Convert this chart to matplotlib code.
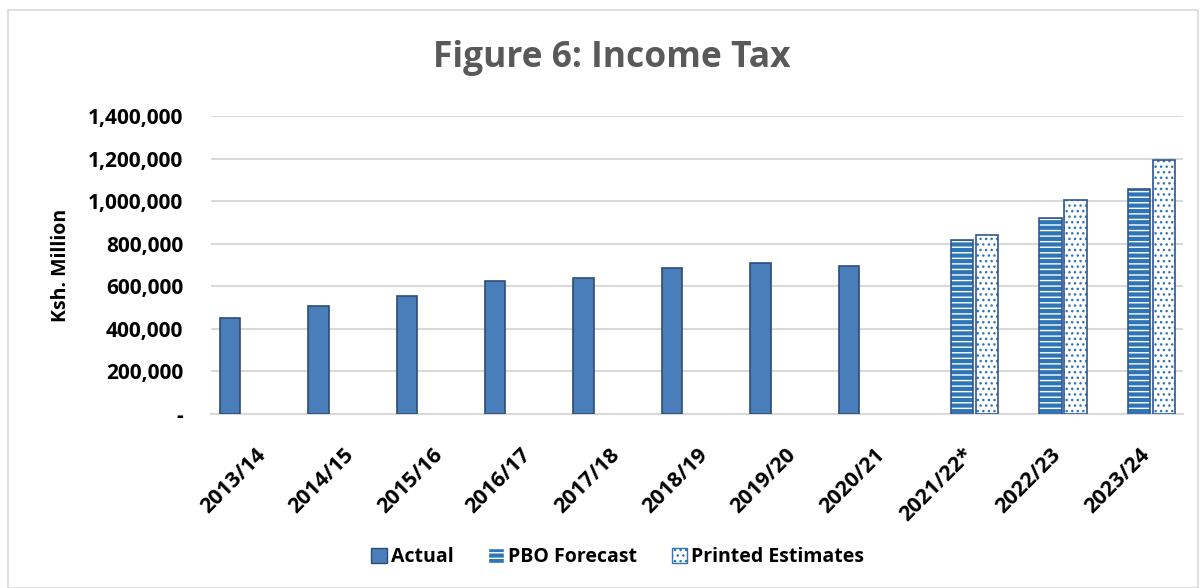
import matplotlib
matplotlib.use("Agg")
import matplotlib.pyplot as plt
import matplotlib.patches as mpatches
from matplotlib.ticker import FuncFormatter
import numpy as np

years = ['2013/14', '2014/15', '2015/16', '2016/17', '2017/18', '2018/19',
         '2019/20', '2020/21', '2021/22*', '2022/23', '2023/24']
actual = [451000, 507000, 554000, 625000, 639000, 686000, 709000, 695000, None, None, None]
pbo_forecast = [None, None, None, None, None, None, None, None, 817000, 921000, 1057000]
printed_estimates = [None, None, None, None, None, None, None, None, 841000, 1005000, 1193000]

plt.rcParams['font.family'] = ['Open Sans', 'DejaVu Sans']
plt.rcParams['hatch.linewidth'] = 1.0

fig = plt.figure(figsize=(12.04, 5.88), dpi=100)
ax = fig.add_axes([211 / 1204, 1 - 414 / 588, (1183 - 211) / 1204, (414 - 116) / 588])

x = np.arange(len(years))
off = 0.283
w = 0.25

def pick(vals):
    idx = [i for i, v in enumerate(vals) if v is not None]
    return np.array(idx), [vals[i] for i in idx]

xa, ya = pick(actual)
xp, yp = pick(pbo_forecast)
xe, ye = pick(printed_estimates)

# actual bars
ax.bar(xa - off, ya, width=0.23, color='#4A7EBB', edgecolor='#2C4D75', linewidth=1.2, zorder=3)

# forecast bars: blue with white stripes, then a border on top
ax.bar(xp, yp, width=w, color='#2E75B6', edgecolor='white', hatch='---', linewidth=0, zorder=3)
ax.bar(xp, yp, width=w, fill=False, edgecolor='#2F5597', linewidth=1.2, zorder=4)

# printed estimates: white with blue dots
ax.bar(xe + off, ye, width=w, color='white', edgecolor='#2E75B6', hatch='...', linewidth=0, zorder=3)
ax.bar(xe + off, ye, width=w, fill=False, edgecolor='#2F5597', linewidth=1.2, zorder=4)

ax.set_xlim(-0.5, len(years) - 0.5)
ax.set_ylim(0, 1400000)
ax.set_yticks(np.arange(0, 1400001, 200000))
ax.yaxis.set_major_formatter(FuncFormatter(lambda v, p: '-' if v == 0 else f'{int(v):,}'))
ax.grid(axis='y', color='#D9D9D9', linewidth=1.5, zorder=0)
ax.set_axisbelow(True)
for s in ['top', 'right', 'left']:
    ax.spines[s].set_visible(False)
ax.spines['bottom'].set_color('#D9D9D9')
ax.spines['bottom'].set_linewidth(1.5)
ax.tick_params(axis='y', length=0, labelsize=15, pad=20)
ax.tick_params(axis='x', length=0, labelsize=15.5, pad=22)
for lbl in ax.get_yticklabels():
    lbl.set_fontweight('bold')
ax.set_xticks(x)
ax.set_xticklabels(years, rotation=45, ha='right', rotation_mode='anchor', fontweight='bold', fontsize=15.5)
ax.set_ylabel('Ksh. Million', fontweight='bold', fontsize=14, labelpad=12)

fig.text(0.508, 1 - 58 / 588, 'Figure 6: Income Tax', ha='center', va='center',
         fontsize=25.5, fontweight='bold', color='#595959')

h1 = mpatches.Patch(facecolor='#4A7EBB', edgecolor='#2C4D75', label='Actual')
h2 = mpatches.Patch(facecolor='#2E75B6', edgecolor='white', hatch='---', label='PBO Forecast')
h3 = mpatches.Patch(facecolor='white', edgecolor='#2E75B6', hatch='...', label='Printed Estimates')
fig.legend(handles=[h1, h2, h3], loc='center', bbox_to_anchor=(0.513, 1 - 557 / 588), ncol=3,
           frameon=False, prop={'weight': 'bold', 'size': 14}, handlelength=0.8, handleheight=0.8,
           handletextpad=0.2, columnspacing=1.8)

fig.patches.append(mpatches.Rectangle((8 / 1204, 0), 1190 / 1204, 1 - 10 / 588, transform=fig.transFigure,
                                      fill=False, edgecolor='#D9D9D9', linewidth=1.2))

fig.savefig('out.png', dpi=100)
